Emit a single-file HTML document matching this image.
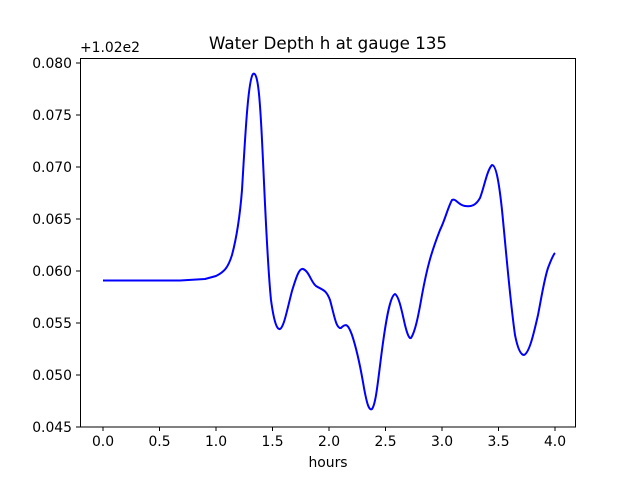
<!DOCTYPE html>
<html><head><meta charset="utf-8"><style>body{margin:0;background:#fff}svg{display:block}text{font-family:"DejaVu Sans","Liberation Sans",sans-serif;font-size:13.9px;fill:#000}</style></head><body>
<svg width="640" height="480" viewBox="0 0 640 480">
<rect width="640" height="480" fill="#fff"/>
<text x="328" y="49" text-anchor="middle" style="font-size:16.7px">Water Depth h at gauge 135</text>
<text x="80" y="52">+1.02e2</text>
<g stroke="#000" stroke-width="1">
<line x1="103" y1="427" x2="103" y2="431"/><line x1="159.5" y1="427" x2="159.5" y2="431"/><line x1="216" y1="427" x2="216" y2="431"/><line x1="272.5" y1="427" x2="272.5" y2="431"/><line x1="329" y1="427" x2="329" y2="431"/><line x1="385.5" y1="427" x2="385.5" y2="431"/><line x1="442" y1="427" x2="442" y2="431"/><line x1="498.5" y1="427" x2="498.5" y2="431"/><line x1="555" y1="427" x2="555" y2="431"/>
<line x1="76" y1="427" x2="80" y2="427"/><line x1="76" y1="375" x2="80" y2="375"/><line x1="76" y1="323" x2="80" y2="323"/><line x1="76" y1="271" x2="80" y2="271"/><line x1="76" y1="219" x2="80" y2="219"/><line x1="76" y1="167" x2="80" y2="167"/><line x1="76" y1="115" x2="80" y2="115"/><line x1="76" y1="63" x2="80" y2="63"/>
</g>
<g text-anchor="middle">
<text x="103" y="446">0.0</text><text x="159.5" y="446">0.5</text><text x="216" y="446">1.0</text><text x="272.5" y="446">1.5</text><text x="329" y="446">2.0</text><text x="385.5" y="446">2.5</text><text x="442" y="446">3.0</text><text x="498.5" y="446">3.5</text><text x="555" y="446">4.0</text>
<text x="328" y="467">hours</text>
</g>
<g text-anchor="end">
<text x="72" y="432">0.045</text><text x="72" y="380">0.050</text><text x="72" y="328">0.055</text><text x="72" y="276">0.060</text><text x="72" y="224">0.065</text><text x="72" y="172">0.070</text><text x="72" y="120">0.075</text><text x="72" y="68">0.080</text>
</g>
<path fill="none" stroke="#0000ff" stroke-width="2" stroke-linejoin="round" d="M103,280.5 L180,280.5 L205,279 L216,276 C224,272 228,268 232,255 C236,240 240,215 242,190 C245,140 248,80 253,74 C258,70 260,100 262,140 C265,200 267,260 271,300 C274,322 277,330 280,329 C284,327 287,310 292,291 C296,278 299,268 303,269 C309,271 311,282 316,286 C322,290 326,289 330,300 C334,314 336,329 341,328 C346,323 348,324 352,335 C357,350 361,370 364,388 C367,404 369,411 372,409 C376,404 378,380 382,350 C386,320 390,296 395,294 C399,296 402,312 405,325 C407,333 409,339 411,338 C415,332 418,318 422,295 C427,268 431,253 440,230 C445,220 448,207 452,200 C456,198 458,205 465,206 C472,207 476,205 480,198 C484,188 487,170 492,165 C496,165 499,182 502,210 C506,250 510,300 515,335 C518,350 521,355 524,355 C529,353 533,337 538,315 C541,300 544,280 548,268 C551,260 553,255 555,253"/>
<rect x="80.5" y="58.5" width="495" height="368.5" fill="none" stroke="#000" stroke-width="1"/>
</svg>
</body></html>
